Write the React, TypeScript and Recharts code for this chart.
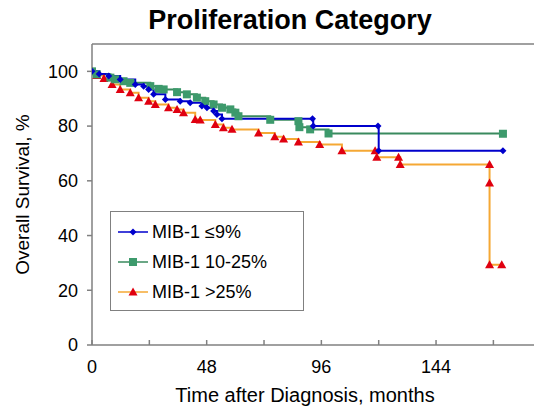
import { LineChart, Line, XAxis, YAxis, ReferenceLine, Label } from "recharts";

// Kaplan-Meier steps: months after diagnosis, survival %
const blueTime = [0, 3, 7, 11.8, 18.1, 21.6, 23.7, 25.8, 30.7, 36.9, 41.1, 46, 48.1, 50.9, 52.3, 54.4, 92.3, 92.6, 119.7, 120, 172];
const blueSurv = [100, 99, 98.3, 97, 95.2, 94.6, 93.4, 91.6, 89.7, 89.1, 88.5, 87.3, 86.7, 85.5, 84.2, 82.7, 82.7, 80, 80, 71, 71];

const greenTime = [0, 2, 7.7, 9.7, 13.2, 16, 24.4, 27.9, 30, 35.6, 39.7, 43.9, 47.4, 50.9, 54.4, 57.9, 60, 61.3, 74.6, 86.4, 86.8, 91.3, 99, 172];
const greenSurv = [100, 98.9, 97.7, 97.1, 96.4, 95.8, 94.6, 93.6, 93.4, 92.4, 91.6, 90.4, 89.1, 87.9, 86.7, 86.1, 84.9, 83.6, 82.3, 81.8, 79.6, 78.8, 77.3, 77.2];

const redTime = [0, 2, 5, 8.4, 11.8, 16, 19.5, 23.7, 26.5, 32, 35.6, 38.3, 43.2, 45.3, 51.6, 55, 58.6, 69.7, 76.5, 80.2, 86.4, 95.3, 104.6, 118.5, 119.2, 128.3, 129, 166.4, 166.4, 166.4, 171.5];
const redSurv = [100, 98.5, 97.4, 95.2, 93.4, 92.2, 90.4, 89.1, 87.9, 86.7, 86.1, 84.9, 82.4, 82.2, 80.6, 79.4, 78.8, 77.5, 76.1, 75.3, 74.2, 73.3, 71, 71, 68.6, 68.6, 66, 66, 59.2, 29.3, 29.3];

const seriesNames = ["MIB-1 \u22649%", "MIB-1 10-25%", "MIB-1 >25%"];
const xTicks = [0, 24, 48, 72, 96, 120, 144, 168];
const xLabeled = [0, 48, 96, 144];
const yTicks = [0, 20, 40, 60, 80, 100];

const toPoints = (t: number[], s: number[]) => t.map((x, i) => ({ t: x, s: s[i] }));

const BLUE = "#0000cc";
const GREEN_LINE = "#3a8a5e";
const GREEN = "#3d9a6c";
const ORANGE = "#f5a834";
const RED = "#e00010";
const AXIS = "#808080";
const FONT = "'Liberation Sans', Arial, sans-serif";

const Diamond = (p: any) => (
  <path key={p.key} d={`M${p.cx},${p.cy - 3.5}L${p.cx + 3.5},${p.cy}L${p.cx},${p.cy + 3.5}L${p.cx - 3.5},${p.cy}Z`} fill={BLUE} />
);
const Square = (p: any) => (
  <rect key={p.key} x={p.cx - 4} y={p.cy - 4} width={8} height={8} fill={GREEN} />
);
const Triangle = (p: any) => (
  <path key={p.key} d={`M${p.cx},${p.cy - 4.5}L${p.cx + 4.5},${p.cy + 3.5}L${p.cx - 4.5},${p.cy + 3.5}Z`} fill={RED} />
);

function LegendIcon({ i }: { i: number }) {
  const line = [BLUE, GREEN_LINE, ORANGE][i];
  const Mark = [Diamond, Square, Triangle][i];
  return (
    <svg width={32} height={14} style={{ marginRight: 3 }}>
      <line x1={1} y1={7} x2={31} y2={7} stroke={line} strokeWidth={1.5} />
      <Mark cx={16} cy={7} />
    </svg>
  );
}

function LegendBox() {
  return (
    <div
      style={{
        position: "absolute",
        left: 110,
        top: 211,
        border: `1px solid ${AXIS}`,
        background: "#fff",
        width: 186,
        padding: "5px 0 3px 6px",
        fontSize: 18,
        color: "#000",
      }}
    >
      {seriesNames.map((n, i) => (
        <div key={n} style={{ display: "flex", alignItems: "center", height: 30 }}>
          <LegendIcon i={i} />
          {n}
        </div>
      ))}
    </div>
  );
}

export default function App() {
  return (
    <div style={{ position: "absolute", left: 0, top: 0, width: 534, height: 411, background: "#fff", fontFamily: FONT }}>
      <div
        style={{
          position: "absolute",
          left: 0,
          top: 5,
          width: 580,
          textAlign: "center",
          fontWeight: "bold",
          fontSize: 27,
          color: "#000",
        }}
      >
        Proliferation Category
      </div>
      <LineChart width={534} height={411} margin={{ top: 44, right: 0, left: 0, bottom: 0 }}>
        <XAxis
          type="number"
          dataKey="t"
          domain={[0, 185]}
          ticks={xTicks}
          allowDataOverflow
          tickFormatter={(v: number) => (xLabeled.includes(v) ? String(v) : "")}
          height={66}
          tickSize={-5}
          tickMargin={20}
          stroke={AXIS}
          strokeWidth={1.5}
          tick={{ fill: "#000", fontSize: 18, fontFamily: FONT }}
        >
          <Label value="Time after Diagnosis, months" position="insideBottom" offset={9} dx={-8} style={{ fill: "#000", fontSize: 20, fontFamily: FONT }} />
        </XAxis>
        <YAxis
          type="number"
          domain={[0, 110]}
          ticks={yTicks}
          width={92}
          tickSize={5}
          tickMargin={9}
          stroke={AXIS}
          strokeWidth={1.5}
          tick={{ fill: "#000", fontSize: 18, fontFamily: FONT }}
        >
          <Label value="Overall Survival, %" angle={-90} position="insideLeft" offset={22} style={{ textAnchor: "middle", fill: "#000", fontSize: 19, fontFamily: FONT }} />
        </YAxis>
        <ReferenceLine y={110} stroke={AXIS} strokeWidth={1.5} />
        <Line data={toPoints(redTime, redSurv)} dataKey="s" name={seriesNames[2]} type="stepAfter" stroke={ORANGE} strokeWidth={2} dot={Triangle} activeDot={false} isAnimationActive={false} />
        <Line data={toPoints(greenTime, greenSurv)} dataKey="s" name={seriesNames[1]} type="stepAfter" stroke={GREEN_LINE} strokeWidth={2} dot={Square} activeDot={false} isAnimationActive={false} />
        <Line data={toPoints(blueTime, blueSurv)} dataKey="s" name={seriesNames[0]} type="stepAfter" stroke={BLUE} strokeWidth={2} dot={Diamond} activeDot={false} isAnimationActive={false} />
      </LineChart>
      <LegendBox />
    </div>
  );
}
